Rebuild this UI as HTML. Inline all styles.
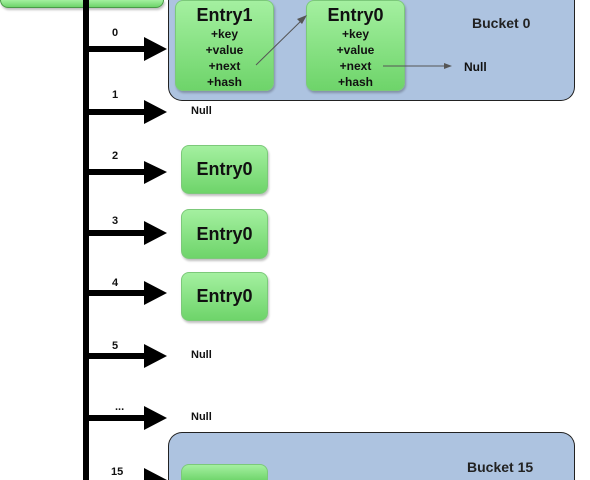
<!DOCTYPE html>
<html><head><meta charset="utf-8"><style>
html,body{margin:0;width:590px;height:480px;overflow:hidden}
body{background:#fff;position:relative;font-family:"Liberation Sans",Arial,sans-serif;font-weight:bold;color:#111}
.a{position:absolute}
.g{position:absolute;background:linear-gradient(#a4f0a0,#6ed46a);border:1px solid #7cc97a;border-radius:8px;box-shadow:1px 2px 2px rgba(0,0,0,.25);text-align:center}
.bk{position:absolute;background:#adc3e0;border:1px solid #222;border-radius:14px}
.t{font-size:18px}
.f{font-size:12px;line-height:16px}
.n{position:absolute;font-size:11px}
</style></head><body>
<div class="g" style="left:0;top:0;width:162px;height:7px;border-color:#4a9a48;border-top:none;border-radius:0 0 8px 8px"></div>
<div class="bk" style="left:168px;top:0;width:405px;height:100px;border-top:none;border-radius:0 0 14px 14px"></div>
<div class="bk" style="left:168px;top:432px;width:405px;height:48px;border-bottom:none;border-radius:14px 14px 0 0"></div>
<div class="g" style="left:175px;top:0;width:97px;height:89px"><div class="t" style="margin-top:4px">Entry1</div><div class="f">+key<br>+value<br>+next<br>+hash</div></div>
<div class="g" style="left:306px;top:0;width:97px;height:89px"><div class="t" style="margin-top:4px">Entry0</div><div class="f">+key<br>+value<br>+next<br>+hash</div></div>
<div class="a" style="left:472px;top:15px;font-size:14px;color:#222">Bucket 0</div>
<div class="a" style="left:467px;top:459px;font-size:14px;color:#222">Bucket 15</div>
<div class="a" style="left:464px;top:60px;font-size:12px">Null</div>
<div class="g" style="left:181px;top:145px;width:85px;height:47px;line-height:47px"><span class="t">Entry0</span></div>
<div class="g" style="left:181px;top:209px;width:85px;height:48px;line-height:48px"><span class="t">Entry0</span></div>
<div class="g" style="left:181px;top:272px;width:85px;height:47px;line-height:47px"><span class="t">Entry0</span></div>
<div class="g" style="left:181px;top:464px;width:85px;height:16px;border-bottom:none;border-radius:8px 8px 0 0;box-shadow:none"></div>
<svg class="a" style="left:0;top:0" width="590" height="480">
<rect x="83" y="0" width="6" height="480" fill="#000"/>
<g fill="#000">
<rect x="86" y="46" width="60" height="6"/><polygon points="144,37 167,49 144,61"/>
<rect x="86" y="109" width="60" height="6"/><polygon points="144,100 167,112 144,124"/>
<rect x="86" y="169" width="60" height="6"/><polygon points="144,161 167,172 144,184"/>
<rect x="86" y="230" width="60" height="6"/><polygon points="144,221 167,233 144,245"/>
<rect x="86" y="290" width="60" height="6"/><polygon points="144,281 167,293 144,305"/>
<rect x="86" y="353" width="60" height="6"/><polygon points="144,344 167,356 144,368"/>
<rect x="86" y="415" width="60" height="6"/><polygon points="144,406 167,418 144,430"/>
<polygon points="144,468 167,480 144,480"/>
</g>
<line x1="256" y1="65" x2="303" y2="19" stroke="#555" stroke-width="1"/><polygon points="307,15 297,19 302,24" fill="#555"/>
<line x1="383" y1="66" x2="446" y2="66" stroke="#555" stroke-width="1"/><polygon points="452,66 444,63 444,69" fill="#555"/>
</svg>
<div class="n" style="left:112px;top:27px">0</div>
<div class="n" style="left:112px;top:89px">1</div>
<div class="n" style="left:112px;top:150px">2</div>
<div class="n" style="left:112px;top:215px">3</div>
<div class="n" style="left:112px;top:277px">4</div>
<div class="n" style="left:112px;top:340px">5</div>
<div class="n" style="left:115px;top:401px">...</div>
<div class="n" style="left:111px;top:466px">15</div>
<div class="n" style="left:191px;top:105px">Null</div>
<div class="n" style="left:191px;top:349px">Null</div>
<div class="n" style="left:191px;top:411px">Null</div>
</body></html>
